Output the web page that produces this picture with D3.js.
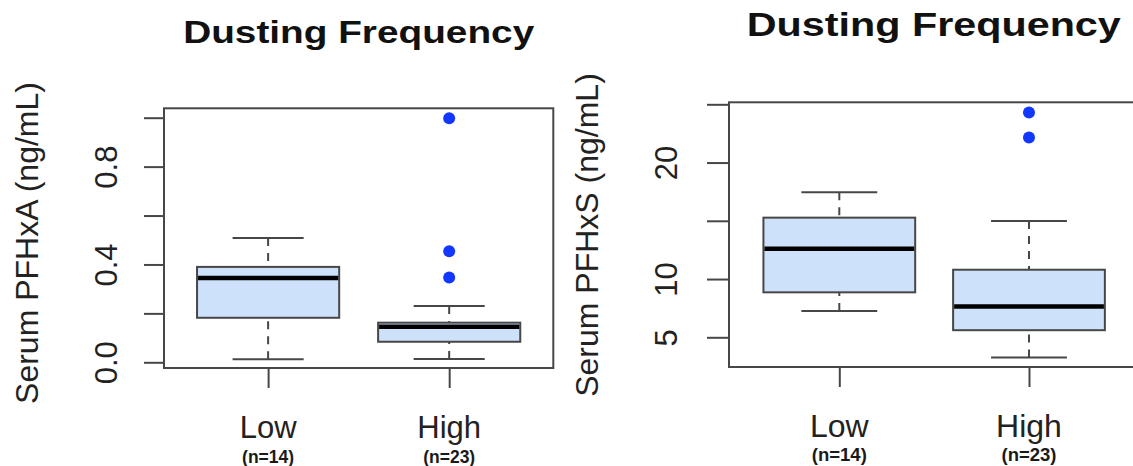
<!DOCTYPE html>
<html>
<head>
<meta charset="utf-8">
<script src="https://cdn.jsdelivr.net/npm/d3@7"></script>
<style>
  html, body { margin: 0; padding: 0; background: #fff; }
  svg { display: block; }
  text { font-family: "Liberation Sans", Arial, Helvetica, sans-serif; }
</style>
</head>
<body>
<svg id="chart" width="1133" height="466"></svg>
<script>
// ---- data ----
const categories = ["Low", "High"];
const sampleSizes = ["(n=14)", "(n=23)"];
const titleText = "Dusting Frequency";

// PFHxA (ng/mL): [lower whisker, Q1, median, Q3, upper whisker]
const pfhxaLow  = [0.012, 0.182, 0.345, 0.390, 0.508];
const pfhxaHigh = [0.0135, 0.084, 0.145, 0.162, 0.230];
const pfhxaLowOutliers  = [];
const pfhxaHighOutliers = [0.998, 0.454, 0.347];
const pfhxaTicks = [0, 0.2, 0.4, 0.6, 0.8, 1.0];
const pfhxaTickLabels = ["0.0", "", "0.4", "", "0.8", ""];

// PFHxS (ng/mL)
const pfhxsLow  = [7.25, 8.86, 12.6, 15.27, 17.45];
const pfhxsHigh = [3.27, 5.61, 7.65, 10.8, 14.99];
const pfhxsLowOutliers  = [];
const pfhxsHighOutliers = [24.3, 22.15];
const pfhxsTicks = [5, 10, 15, 20, 25];
const pfhxsTickLabels = ["5", "10", "", "20", ""];

const svg = d3.select("#chart");

const C = {
  frame: "#474747",
  fill: "#cde1fa",
  median: "#000000",
  outlier: "#1238ff"
};

function panel(opt) {
  const g = svg.append("g");
  const x = d3.scalePoint().domain(categories)
    .range([opt.left, opt.right]).padding(opt.pad);
  const y = d3.scaleLinear().domain(opt.yDomain).range(opt.yRange);
  const step = x.step();
  const bw = step * opt.boxFrac;
  const cw = bw / 2;

  // title
  g.append("text")
    .attr("x", opt.titleX).attr("y", opt.titleY)
    .attr("text-anchor", "middle")
    .attr("font-weight", "bold")
    .attr("font-size", opt.titleSize)
    .attr("textLength", opt.titleLen)
    .attr("lengthAdjust", "spacingAndGlyphs")
    .attr("fill", "#111")
    .text(titleText);

  // y axis label
  g.append("text")
    .attr("transform", `translate(${opt.ylabX},${opt.ylabY}) rotate(-90)`)
    .attr("text-anchor", "middle")
    .attr("font-size", 32)
    .attr("fill", "#222")
    .text(opt.ylab);

  // y axis via d3.axisLeft
  const yAxis = d3.axisLeft(y)
    .tickValues(opt.ticks)
    .tickSize(opt.tickLen)
    .tickFormat((d, i) => opt.tickLabels[i]);
  const ya = g.append("g")
    .attr("transform", `translate(${opt.left},0)`)
    .call(yAxis);
  ya.select(".domain").remove();
  ya.selectAll(".tick line").attr("stroke", C.frame).attr("stroke-width", 2);
  ya.selectAll(".tick text")
    .attr("font-family", "'Liberation Sans', Arial, sans-serif")
    .attr("font-size", 31)
    .attr("fill", "#222")
    .attr("text-anchor", "middle")
    .attr("x", 0).attr("dy", 0)
    .attr("transform", d => `translate(${opt.tickLabX - opt.left},${0}) rotate(-90)`)
    .attr("y", 0);

  // x axis ticks (below frame) via d3.axisBottom
  const xAxis = d3.axisBottom(x).tickSize(opt.xTickLen).tickFormat("");
  const xa = g.append("g")
    .attr("transform", `translate(0,${opt.bottom})`)
    .call(xAxis);
  xa.select(".domain").remove();
  xa.selectAll(".tick line").attr("stroke", C.frame).attr("stroke-width", 2);

  // x category labels
  categories.forEach((c, i) => {
    g.append("text")
      .attr("x", x(c)).attr("y", opt.catY)
      .attr("text-anchor", "middle")
      .attr("font-size", opt.catSize)
      .attr("fill", "#222")
      .text(c);
    g.append("text")
      .attr("x", x(c)).attr("y", opt.nY)
      .attr("text-anchor", "middle")
      .attr("font-family", "'Open Sans', sans-serif")
      .attr("font-weight", 600)
      .attr("font-size", opt.nSize)
      .attr("fill", "#1a1a1a")
      .text(sampleSizes[i]);
  });

  // boxes
  opt.stats.forEach((s, i) => {
    const cx = x(categories[i]);
    const [wl, q1, md, q3, wh] = s;
    // whiskers (dashed)
    g.append("line")
      .attr("x1", cx).attr("x2", cx)
      .attr("y1", y(wh)).attr("y2", y(q3))
      .attr("stroke", C.frame).attr("stroke-width", 2)
      .attr("stroke-dasharray", "8,7");
    g.append("line")
      .attr("x1", cx).attr("x2", cx)
      .attr("y1", y(wl)).attr("y2", y(q1))
      .attr("stroke", C.frame).attr("stroke-width", 2)
      .attr("stroke-dasharray", "8,7");
    // caps
    [wl, wh].forEach(v => {
      g.append("line")
        .attr("x1", cx - cw / 2).attr("x2", cx + cw / 2)
        .attr("y1", y(v)).attr("y2", y(v))
        .attr("stroke", C.frame).attr("stroke-width", 2);
    });
    // box
    g.append("rect")
      .attr("x", cx - bw / 2).attr("width", bw)
      .attr("y", y(q3)).attr("height", y(q1) - y(q3))
      .attr("fill", C.fill)
      .attr("stroke", C.frame).attr("stroke-width", 2);
    // median
    g.append("line")
      .attr("x1", cx - bw / 2 + 1).attr("x2", cx + bw / 2 - 1)
      .attr("y1", y(md)).attr("y2", y(md))
      .attr("stroke", C.median).attr("stroke-width", 4.5);
    // outliers
    g.selectAll(null).data(opt.outliers[i]).enter()
      .append("circle")
      .attr("cx", cx).attr("cy", d => y(d))
      .attr("r", 6)
      .attr("fill", C.outlier);
  });

  // frame
  g.append("rect")
    .attr("x", opt.left).attr("y", opt.top)
    .attr("width", opt.right - opt.left).attr("height", opt.bottom - opt.top)
    .attr("fill", "none")
    .attr("stroke", C.frame).attr("stroke-width", 2);
}

panel({
  left: 164, right: 553.3, top: 108.3, bottom: 368,
  pad: 0.575, boxFrac: 0.785,
  yDomain: [0, 1], yRange: [362.3, 117.7],
  ticks: pfhxaTicks, tickLabels: pfhxaTickLabels,
  tickLen: 20, tickLabX: 117, xTickLen: 20,
  stats: [pfhxaLow, pfhxaHigh],
  outliers: [pfhxaLowOutliers, pfhxaHighOutliers],
  titleX: 358.7, titleY: 43.3, titleSize: 32, titleLen: 351,
  ylab: "Serum PFHxA (ng/mL)", ylabX: 38, ylabY: 243,
  catY: 438.3, catSize: 31, nY: 462.5, nSize: 17.5
});

panel({
  left: 729, right: 1139.3, top: 102.3, bottom: 367,
  pad: 0.5815, boxFrac: 0.80,
  yDomain: [5, 25], yRange: [337.3, 104.3],
  ticks: pfhxsTicks, tickLabels: pfhxsTickLabels,
  tickLen: 22, tickLabX: 677, xTickLen: 20,
  stats: [pfhxsLow, pfhxsHigh],
  outliers: [pfhxsLowOutliers, pfhxsHighOutliers],
  titleX: 933.8, titleY: 36, titleSize: 34, titleLen: 374,
  ylab: "Serum PFHxS (ng/mL)", ylabX: 598, ylabY: 235,
  catY: 436.7, catSize: 32, nY: 460.5, nSize: 18.5
});
</script>
</body>
</html>
